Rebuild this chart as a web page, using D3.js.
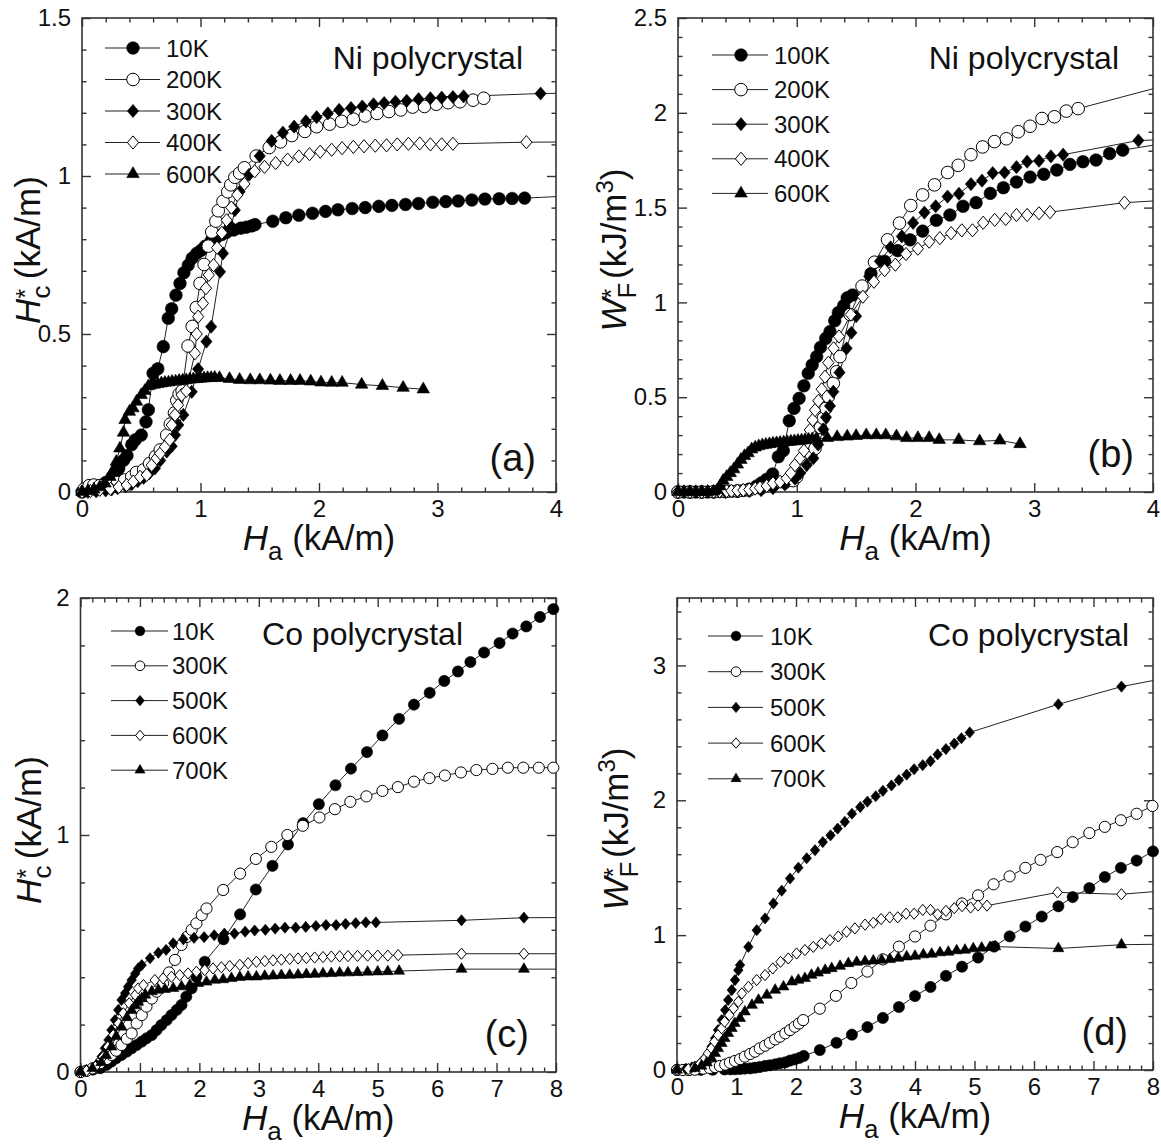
<!DOCTYPE html>
<html><head><meta charset="utf-8">
<script src="https://cdn.jsdelivr.net/npm/d3@7"></script>
<style>
body{margin:0;background:#fff}
svg text{font-family:"Liberation Sans",Arial,Helvetica,sans-serif;fill:#111}
</style></head>
<body><svg id="chart" width="1161" height="1147"></svg>
<script>
// ---------------- DATA ----------------
// Panel (a): Ni polycrystal, Hc* (kA/m) vs Ha (kA/m)
const niHcLabels = ["10K","200K","300K","400K","600K"];
const niHc10K = [[0.0,0.0],[0.05,0.005],[0.1,0.01],[0.15,0.02],[0.2,0.03],[0.25,0.045],[0.29,0.06],[0.31,0.075],[0.35,0.1],[0.38,0.115],[0.42,0.15],[0.45,0.165],[0.5,0.18],[0.54,0.222],[0.56,0.26],[0.6,0.376],[0.64,0.39],[0.686,0.46],[0.728,0.55],[0.757,0.58],[0.793,0.623],[0.827,0.66],[0.86,0.694],[0.897,0.718],[0.93,0.74],[0.968,0.755],[1.005,0.765],[1.04,0.778],[1.09,0.795],[1.135,0.806],[1.18,0.815],[1.22,0.822],[1.28,0.829],[1.34,0.835],[1.385,0.838],[1.43,0.842],[1.46,0.846],[1.61,0.857],[1.72,0.868],[1.83,0.876],[1.945,0.882],[2.055,0.888],[2.16,0.893],[2.28,0.897],[2.39,0.9],[2.505,0.904],[2.615,0.907],[2.73,0.91],[2.84,0.913],[2.96,0.917],[3.07,0.919],[3.175,0.921],[3.29,0.924],[3.40,0.927],[3.52,0.928],[3.63,0.929],[3.735,0.930],[4.3,0.94]];
const niHc200K = [[0.02,0.01],[0.06,0.02],[0.1,0.022],[0.15,0.02],[0.2,0.02],[0.25,0.025],[0.3,0.03],[0.36,0.038],[0.42,0.048],[0.46,0.062],[0.52,0.07],[0.57,0.09],[0.62,0.112],[0.66,0.133],[0.715,0.18],[0.745,0.215],[0.78,0.25],[0.80,0.29],[0.82,0.31],[0.845,0.32],[0.895,0.462],[0.93,0.524],[0.965,0.584],[0.996,0.66],[1.03,0.72],[1.065,0.778],[1.095,0.823],[1.13,0.857],[1.15,0.89],[1.19,0.92],[1.23,0.95],[1.255,0.972],[1.29,0.996],[1.33,1.009],[1.37,1.026],[1.47,1.063],[1.58,1.09],[1.675,1.108],[1.77,1.128],[1.88,1.141],[1.98,1.156],[2.09,1.164],[2.19,1.173],[2.29,1.18],[2.39,1.19],[2.49,1.198],[2.59,1.204],[2.69,1.209],[2.79,1.218],[2.89,1.22],[2.99,1.227],[3.09,1.232],[3.19,1.235],[3.30,1.24],[3.39,1.246]];
const niHc300K = [[0.05,0.0],[0.12,0.002],[0.2,0.005],[0.25,0.008],[0.3,0.012],[0.37,0.018],[0.42,0.025],[0.47,0.034],[0.52,0.045],[0.57,0.06],[0.616,0.075],[0.66,0.1],[0.715,0.128],[0.757,0.145],[0.785,0.18],[0.813,0.212],[0.855,0.244],[0.926,0.317],[0.98,0.389],[1.05,0.476],[1.09,0.523],[1.165,0.697],[1.19,0.755],[1.26,0.84],[1.29,0.892],[1.33,0.95],[1.41,1.004],[1.50,1.063],[1.60,1.111],[1.695,1.137],[1.79,1.156],[1.89,1.173],[1.98,1.186],[2.075,1.198],[2.17,1.209],[2.27,1.215],[2.365,1.22],[2.46,1.227],[2.55,1.231],[2.645,1.235],[2.74,1.238],[2.84,1.243],[2.94,1.246],[3.035,1.248],[3.13,1.25],[3.22,1.252],[3.87,1.261],[4.3,1.263]];
const niHc400K = [[0.0,0.0],[0.07,0.003],[0.15,0.007],[0.24,0.01],[0.31,0.016],[0.377,0.022],[0.433,0.033],[0.49,0.048],[0.546,0.054],[0.588,0.085],[0.63,0.107],[0.66,0.122],[0.70,0.143],[0.74,0.165],[0.757,0.212],[0.785,0.244],[0.81,0.275],[0.84,0.307],[0.88,0.32],[0.953,0.439],[0.968,0.50],[0.98,0.555],[1.02,0.597],[1.046,0.645],[1.07,0.687],[1.11,0.718],[1.14,0.773],[1.18,0.82],[1.22,0.86],[1.26,0.90],[1.31,0.94],[1.37,0.975],[1.457,1.015],[1.54,1.029],[1.634,1.041],[1.735,1.052],[1.83,1.062],[1.92,1.069],[2.01,1.077],[2.107,1.083],[2.195,1.088],[2.29,1.092],[2.38,1.094],[2.475,1.096],[2.57,1.097],[2.66,1.10],[2.755,1.102],[2.85,1.103],[2.94,1.10],[3.035,1.10],[3.13,1.102],[3.75,1.107],[4.3,1.108]];
const niHc600K = [[0.0,0.0],[0.05,0.003],[0.1,0.008],[0.15,0.015],[0.194,0.027],[0.236,0.048],[0.265,0.07],[0.29,0.096],[0.32,0.138],[0.35,0.188],[0.363,0.228],[0.40,0.254],[0.43,0.265],[0.46,0.286],[0.50,0.307],[0.53,0.32],[0.56,0.335],[0.58,0.338],[0.61,0.34],[0.64,0.342],[0.67,0.344],[0.70,0.346],[0.73,0.347],[0.76,0.349],[0.79,0.35],[0.82,0.352],[0.85,0.353],[0.88,0.354],[0.91,0.356],[0.94,0.357],[0.97,0.358],[1.0,0.359],[1.03,0.36],[1.06,0.361],[1.09,0.361],[1.12,0.362],[1.16,0.361],[1.245,0.358],[1.33,0.355],[1.42,0.354],[1.50,0.354],[1.59,0.353],[1.67,0.352],[1.76,0.352],[1.84,0.352],[1.93,0.35],[2.017,0.347],[2.107,0.346],[2.195,0.346],[2.36,0.34],[2.535,0.336],[2.71,0.33],[2.88,0.325]];

// Panel (b): Ni polycrystal, WF* (kJ/m^3)
const niWfLabels = ["100K","200K","300K","400K","600K"];
const niWf100K = [[0.0,0.0],[0.05,0.0],[0.1,0.0],[0.15,0.0],[0.2,0.0],[0.25,0.0],[0.3,0.001],[0.35,0.002],[0.4,0.003],[0.45,0.004],[0.5,0.005],[0.55,0.008],[0.6,0.015],[0.663,0.032],[0.705,0.049],[0.747,0.067],[0.797,0.095],[0.845,0.186],[0.887,0.218],[0.937,0.376],[0.977,0.441],[1.02,0.494],[1.06,0.56],[1.097,0.626],[1.13,0.67],[1.168,0.714],[1.20,0.763],[1.244,0.81],[1.28,0.846],[1.32,0.903],[1.35,0.946],[1.395,0.983],[1.425,1.024],[1.47,1.039],[1.625,1.152],[1.74,1.217],[1.85,1.273],[1.955,1.33],[2.06,1.376],[2.175,1.433],[2.29,1.461],[2.40,1.507],[2.51,1.526],[2.63,1.575],[2.74,1.605],[2.85,1.635],[2.965,1.661],[3.08,1.676],[3.19,1.698],[3.30,1.728],[3.41,1.742],[3.52,1.751],[3.635,1.785],[3.745,1.803],[4.3,1.86]];
const niWf200K = [[0.0,0.0],[0.1,0.0],[0.2,0.0],[0.3,0.001],[0.4,0.002],[0.5,0.005],[0.6,0.01],[0.7,0.02],[0.8,0.035],[0.9,0.05],[0.97,0.06],[1.0,0.08],[1.03,0.12],[1.08,0.17],[1.12,0.2],[1.154,0.23],[1.2,0.34],[1.224,0.389],[1.246,0.441],[1.266,0.503],[1.308,0.573],[1.336,0.634],[1.364,0.714],[1.45,0.936],[1.55,1.086],[1.655,1.212],[1.765,1.33],[1.865,1.418],[1.96,1.511],[2.06,1.567],[2.16,1.62],[2.27,1.685],[2.36,1.723],[2.467,1.779],[2.565,1.82],[2.665,1.848],[2.765,1.863],[2.865,1.90],[2.965,1.929],[3.065,1.97],[3.17,1.979],[3.27,2.009],[3.37,2.022],[4.5,2.21]];
const niWf300K = [[0.0,0.0],[0.1,0.0],[0.2,0.0],[0.3,0.0],[0.4,0.001],[0.5,0.003],[0.6,0.005],[0.7,0.01],[0.8,0.02],[0.9,0.04],[0.985,0.07],[1.03,0.1],[1.084,0.142],[1.14,0.178],[1.18,0.25],[1.224,0.33],[1.246,0.394],[1.28,0.454],[1.308,0.529],[1.36,0.63],[1.42,0.758],[1.46,0.84],[1.50,0.927],[1.61,1.137],[1.70,1.217],[1.79,1.29],[1.885,1.348],[1.98,1.419],[2.075,1.474],[2.17,1.507],[2.27,1.558],[2.366,1.573],[2.467,1.624],[2.56,1.642],[2.65,1.682],[2.75,1.685],[2.85,1.713],[2.94,1.742],[3.04,1.747],[3.14,1.77],[3.243,1.779],[3.877,1.854],[4.3,1.862]];
const niWf400K = [[0.0,0.0],[0.1,0.0],[0.2,0.0],[0.3,0.002],[0.35,0.003],[0.41,0.005],[0.45,0.006],[0.5,0.008],[0.55,0.01],[0.6,0.013],[0.65,0.018],[0.69,0.023],[0.747,0.032],[0.80,0.046],[0.86,0.054],[0.915,0.072],[0.95,0.1],[0.985,0.142],[1.027,0.178],[1.06,0.218],[1.11,0.327],[1.134,0.38],[1.154,0.432],[1.182,0.481],[1.21,0.542],[1.238,0.608],[1.266,0.682],[1.31,0.758],[1.356,0.82],[1.455,0.936],[1.557,1.03],[1.65,1.109],[1.74,1.17],[1.83,1.199],[1.92,1.255],[2.02,1.283],[2.115,1.32],[2.205,1.339],[2.30,1.365],[2.39,1.38],[2.48,1.38],[2.57,1.42],[2.667,1.435],[2.76,1.44],[2.85,1.461],[2.94,1.461],[3.04,1.47],[3.133,1.476],[3.76,1.526],[4.3,1.546]];
const niWf600K = [[0.0,0.0],[0.05,0.0],[0.1,0.0],[0.15,0.0],[0.2,0.0],[0.25,0.001],[0.3,0.003],[0.33,0.01],[0.354,0.03],[0.38,0.06],[0.41,0.08],[0.44,0.1],[0.47,0.12],[0.5,0.145],[0.53,0.17],[0.56,0.19],[0.59,0.205],[0.62,0.225],[0.65,0.235],[0.68,0.242],[0.71,0.247],[0.74,0.25],[0.77,0.253],[0.80,0.256],[0.83,0.258],[0.86,0.26],[0.89,0.262],[0.92,0.264],[0.95,0.266],[0.98,0.268],[1.01,0.27],[1.04,0.272],[1.07,0.274],[1.10,0.276],[1.13,0.278],[1.165,0.281],[1.257,0.285],[1.34,0.29],[1.425,0.293],[1.50,0.296],[1.585,0.30],[1.67,0.30],[1.75,0.30],[1.84,0.294],[1.925,0.285],[2.02,0.285],[2.115,0.285],[2.20,0.275],[2.365,0.275],[2.54,0.268],[2.71,0.272],[2.88,0.253]];

// Panel (c): Co polycrystal, Hc* (kA/m)
const coHcLabels = ["10K","300K","500K","600K","700K"];
const coHc10K = [[0.0,0.0],[0.1,0.005],[0.21,0.01],[0.33,0.016],[0.44,0.03],[0.52,0.044],[0.6,0.058],[0.69,0.072],[0.78,0.086],[0.86,0.10],[0.945,0.114],[1.03,0.128],[1.11,0.142],[1.20,0.156],[1.28,0.177],[1.36,0.198],[1.45,0.219],[1.53,0.24],[1.62,0.262],[1.70,0.283],[1.78,0.318],[1.87,0.353],[1.95,0.402],[2.09,0.465],[2.405,0.56],[2.685,0.665],[2.95,0.77],[3.23,0.87],[3.49,0.96],[3.745,1.05],[4.01,1.13],[4.29,1.21],[4.55,1.28],[4.82,1.35],[5.08,1.42],[5.36,1.49],[5.61,1.55],[5.875,1.60],[6.12,1.65],[6.35,1.69],[6.56,1.73],[6.79,1.77],[7.05,1.81],[7.27,1.85],[7.50,1.88],[7.73,1.92],[7.955,1.953]];
const coHc300K = [[0.0,0.0],[0.1,0.005],[0.2,0.015],[0.33,0.037],[0.44,0.055],[0.52,0.072],[0.6,0.09],[0.69,0.114],[0.78,0.14],[0.86,0.163],[0.945,0.205],[1.03,0.24],[1.11,0.276],[1.2,0.31],[1.28,0.339],[1.39,0.374],[1.49,0.42],[1.59,0.473],[1.70,0.536],[1.79,0.57],[1.87,0.60],[1.95,0.627],[2.04,0.662],[2.12,0.69],[2.40,0.768],[2.685,0.837],[2.95,0.899],[3.21,0.95],[3.48,1.0],[3.74,1.039],[4.02,1.074],[4.28,1.109],[4.54,1.14],[4.81,1.163],[5.08,1.186],[5.34,1.202],[5.61,1.225],[5.87,1.24],[6.13,1.251],[6.40,1.264],[6.66,1.274],[6.93,1.279],[7.19,1.284],[7.45,1.284],[7.71,1.284],[7.955,1.284]];
const coHc500K = [[0.0,0.0],[0.1,0.008],[0.27,0.03],[0.356,0.065],[0.41,0.10],[0.47,0.135],[0.52,0.177],[0.58,0.219],[0.635,0.262],[0.69,0.304],[0.75,0.332],[0.80,0.36],[0.86,0.388],[0.92,0.415],[0.97,0.437],[1.03,0.451],[1.17,0.48],[1.31,0.503],[1.44,0.515],[1.56,0.543],[1.73,0.56],[1.91,0.566],[2.08,0.569],[2.25,0.577],[2.42,0.584],[2.59,0.584],[2.77,0.592],[2.93,0.597],[3.11,0.60],[3.275,0.605],[3.44,0.609],[3.62,0.609],[3.79,0.612],[3.96,0.616],[4.13,0.62],[4.30,0.62],[4.46,0.625],[4.63,0.628],[4.80,0.631],[4.97,0.631],[6.41,0.64],[7.46,0.651],[8.5,0.652]];
const coHc600K = [[0.0,0.0],[0.1,0.005],[0.25,0.022],[0.38,0.064],[0.46,0.106],[0.55,0.156],[0.64,0.205],[0.72,0.248],[0.82,0.29],[0.92,0.325],[0.97,0.353],[1.06,0.367],[1.25,0.388],[1.39,0.395],[1.53,0.402],[1.67,0.409],[1.81,0.416],[1.95,0.423],[2.09,0.43],[2.23,0.437],[2.37,0.442],[2.51,0.447],[2.68,0.452],[2.82,0.459],[2.96,0.465],[3.1,0.468],[3.24,0.471],[3.38,0.474],[3.52,0.477],[3.66,0.479],[3.8,0.481],[3.94,0.483],[4.08,0.485],[4.22,0.487],[4.36,0.488],[4.5,0.489],[4.66,0.49],[4.83,0.491],[5.0,0.491],[5.17,0.491],[5.345,0.493],[6.41,0.499],[7.46,0.499],[8.5,0.499]];
const coHc700K = [[0.0,0.0],[0.2,0.015],[0.35,0.04],[0.43,0.07],[0.52,0.106],[0.6,0.15],[0.69,0.19],[0.78,0.23],[0.86,0.26],[0.92,0.28],[0.97,0.295],[1.03,0.31],[1.09,0.325],[1.20,0.339],[1.31,0.346],[1.42,0.349],[1.56,0.353],[1.70,0.36],[1.84,0.367],[1.98,0.374],[2.12,0.38],[2.26,0.388],[2.40,0.39],[2.54,0.395],[2.68,0.40],[2.82,0.402],[2.96,0.402],[3.1,0.405],[3.24,0.406],[3.38,0.408],[3.52,0.409],[3.66,0.41],[3.8,0.412],[3.94,0.413],[4.08,0.415],[4.22,0.416],[4.36,0.418],[4.5,0.419],[4.66,0.42],[4.83,0.422],[5.0,0.423],[5.17,0.424],[5.36,0.426],[6.41,0.434],[7.46,0.434],[8.5,0.434]];

// Panel (d): Co polycrystal, WF* (kJ/m^3)
const coWfLabels = ["10K","300K","500K","600K","700K"];
const coWf10K = [[0.0,0.0],[0.2,0.0],[0.4,0.001],[0.6,0.002],[0.8,0.004],[0.9,0.005],[0.98,0.006],[1.06,0.008],[1.14,0.01],[1.23,0.012],[1.31,0.017],[1.39,0.022],[1.48,0.03],[1.56,0.035],[1.65,0.042],[1.73,0.05],[1.82,0.057],[1.90,0.07],[1.98,0.079],[2.06,0.09],[2.13,0.104],[2.40,0.148],[2.68,0.202],[2.94,0.262],[3.2,0.318],[3.46,0.386],[3.73,0.467],[4.0,0.548],[4.26,0.616],[4.52,0.698],[4.79,0.766],[5.06,0.834],[5.33,0.915],[5.59,0.991],[5.855,1.064],[6.13,1.138],[6.41,1.214],[6.65,1.282],[6.93,1.349],[7.19,1.431],[7.46,1.499],[7.725,1.553],[8.0,1.621]];
const coWf300K = [[0.0,0.0],[0.1,0.0],[0.2,0.001],[0.3,0.002],[0.44,0.01],[0.55,0.015],[0.64,0.022],[0.72,0.03],[0.81,0.04],[0.89,0.054],[0.975,0.067],[1.06,0.081],[1.14,0.099],[1.23,0.119],[1.31,0.136],[1.39,0.16],[1.48,0.18],[1.56,0.202],[1.65,0.227],[1.73,0.247],[1.82,0.272],[1.90,0.296],[1.98,0.321],[2.05,0.345],[2.12,0.37],[2.40,0.455],[2.67,0.55],[2.93,0.645],[3.2,0.73],[3.46,0.82],[3.73,0.915],[4.0,0.99],[4.26,1.07],[4.52,1.154],[4.79,1.235],[5.06,1.295],[5.32,1.377],[5.59,1.436],[5.855,1.499],[6.11,1.558],[6.39,1.616],[6.65,1.689],[6.93,1.757],[7.19,1.803],[7.46,1.852],[7.725,1.90],[7.99,1.958]];
const coWf500K = [[0.0,0.0],[0.15,0.01],[0.25,0.02],[0.36,0.037],[0.44,0.074],[0.53,0.124],[0.58,0.173],[0.64,0.235],[0.69,0.296],[0.75,0.37],[0.81,0.444],[0.86,0.519],[0.92,0.593],[0.975,0.667],[1.03,0.74],[1.06,0.778],[1.20,0.913],[1.34,1.037],[1.48,1.124],[1.62,1.235],[1.76,1.33],[1.90,1.42],[2.04,1.50],[2.18,1.57],[2.32,1.63],[2.45,1.69],[2.58,1.74],[2.70,1.79],[2.82,1.84],[2.94,1.90],[3.08,1.95],[3.20,1.99],[3.34,2.03],[3.46,2.07],[3.605,2.11],[3.73,2.15],[3.86,2.19],[3.985,2.23],[4.13,2.26],[4.26,2.29],[4.38,2.34],[4.52,2.38],[4.66,2.42],[4.78,2.46],[4.92,2.503],[6.41,2.712],[7.47,2.843],[8.5,2.93]];
const coWf600K = [[0.0,0.0],[0.19,0.007],[0.30,0.025],[0.39,0.049],[0.47,0.086],[0.52,0.123],[0.58,0.16],[0.63,0.21],[0.69,0.259],[0.75,0.309],[0.80,0.358],[0.88,0.407],[0.95,0.457],[1.03,0.506],[1.09,0.568],[1.20,0.617],[1.34,0.667],[1.48,0.704],[1.61,0.753],[1.74,0.802],[1.87,0.827],[2.01,0.864],[2.15,0.889],[2.29,0.913],[2.43,0.938],[2.57,0.963],[2.71,0.99],[2.85,1.025],[2.99,1.05],[3.16,1.078],[3.30,1.092],[3.43,1.119],[3.575,1.132],[3.71,1.132],[3.85,1.159],[3.985,1.159],[4.13,1.187],[4.26,1.187],[4.38,1.154],[4.52,1.18],[4.66,1.20],[4.79,1.215],[4.935,1.205],[5.06,1.22],[5.21,1.219],[6.395,1.317],[7.47,1.303],[8.5,1.34]];
const coWf700K = [[0.0,0.0],[0.3,0.012],[0.41,0.03],[0.5,0.054],[0.58,0.086],[0.64,0.123],[0.69,0.16],[0.75,0.198],[0.80,0.235],[0.86,0.272],[0.92,0.309],[0.97,0.346],[1.06,0.383],[1.14,0.432],[1.26,0.481],[1.37,0.519],[1.51,0.556],[1.65,0.593],[1.79,0.617],[1.93,0.654],[2.04,0.667],[2.15,0.679],[2.26,0.704],[2.37,0.72],[2.49,0.74],[2.60,0.753],[2.74,0.77],[2.88,0.79],[3.02,0.80],[3.16,0.805],[3.30,0.81],[3.44,0.815],[3.58,0.82],[3.72,0.83],[3.86,0.84],[4.0,0.845],[4.14,0.855],[4.28,0.86],[4.42,0.87],[4.56,0.875],[4.70,0.885],[4.84,0.89],[4.98,0.90],[5.12,0.905],[5.26,0.91],[5.35,0.915],[6.41,0.901],[7.47,0.929],[8.5,0.935]];

// Tick values
const niXTicks = [0,1,2,3,4];
const coXTicks = [0,1,2,3,4,5,6,7,8];
const niHcYTicks = [0,0.5,1,1.5];
const niWfYTicks = [0,0.5,1,1.5,2,2.5];
const coHcYTicks = [0,1,2];
const coWfYTicks = [0,1,2,3];

// marker style per series position
const markerStyles = [
  {shape:"circle", filled:true},
  {shape:"circle", filled:false},
  {shape:"diamond", filled:true},
  {shape:"diamond", filled:false},
  {shape:"triangle", filled:true}
];

// ---------------- DRAWING ----------------
const svg = d3.select("#chart");
svg.append("rect").attr("width",1161).attr("height",1147).attr("fill","#fff");

const diamondType = {
  draw(ctx, size){
    const ratio = 0.85;
    const h = Math.sqrt(size/(2*ratio)), w = h*ratio;
    ctx.moveTo(0,-h); ctx.lineTo(w,0); ctx.lineTo(0,h); ctx.lineTo(-w,0); ctx.closePath();
  }
};
function symbolPath(shape, sz){
  if(shape==="circle") return d3.symbol().type(d3.symbolCircle).size(Math.PI*sz.c*sz.c)();
  if(shape==="diamond") return d3.symbol().type(diamondType).size(2*0.85*sz.d*sz.d)();
  return d3.symbol().type(d3.symbolTriangle).size(Math.sqrt(3)/4*sz.t*sz.t)();
}

const panels = [
  {id:"a", box:[82,18,556,492], xDom:[0,4], yDom:[0,1.5], xTicks:niXTicks, xMinor:0.2, yTicks:niHcYTicks, yMinor:0.1,
   series:[niHc10K,niHc200K,niHc300K,niHc400K,niHc600K], labels:niHcLabels, yTitle:"Hc",
   legend:{x0:105,x1:160,mx:133,tx:166,y0:48,dy:31.5}, mk:{c:6.3,d:6.6,t:12.5}, lmk:{c:6.3,d:6.6,t:12.5},
   title:"Ni polycrystal", titleX:523, titleY:69, letter:"(a)", letterX:536, letterY:471, yTitleX:40},
  {id:"b", box:[678,18,1153,492], xDom:[0,4], yDom:[0,2.5], xTicks:niXTicks, xMinor:0.2, yTicks:niWfYTicks, yMinor:0.1,
   series:[niWf100K,niWf200K,niWf300K,niWf400K,niWf600K], labels:niWfLabels, yTitle:"WF",
   legend:{x0:712,x1:768,mx:741,tx:774,y0:55,dy:34.6}, mk:{c:6.3,d:6.6,t:12.5}, lmk:{c:6.3,d:6.6,t:12.5},
   title:"Ni polycrystal", titleX:1119, titleY:69, letter:"(b)", letterX:1134, letterY:467, yTitleX:626},
  {id:"c", box:[80.5,598,556,1072], xDom:[0,8], yDom:[0,2], xTicks:coXTicks, xMinor:0.2, yTicks:coHcYTicks, yMinor:0.2,
   series:[coHc10K,coHc300K,coHc500K,coHc600K,coHc700K], labels:coHcLabels, yTitle:"Hc",
   legend:{x0:111,x1:168,mx:140,tx:172,y0:631,dy:34.8}, mk:{c:5.6,d:5.6,t:11}, lmk:{c:4.8,d:5.2,t:10},
   title:"Co polycrystal", titleX:463, titleY:645, letter:"(c)", letterX:529, letterY:1047, yTitleX:41},
  {id:"d", box:[677,598,1153,1070], xDom:[0,8], yDom:[0,3.5], xTicks:coXTicks, xMinor:0.2, yTicks:coWfYTicks, yMinor:0.2,
   series:[coWf10K,coWf300K,coWf500K,coWf600K,coWf700K], labels:coWfLabels, yTitle:"WF",
   legend:{x0:708,x1:763,mx:736,tx:770,y0:636,dy:35.7}, mk:{c:5.6,d:5.6,t:11}, lmk:{c:4.8,d:5.2,t:10},
   title:"Co polycrystal", titleX:1129, titleY:646, letter:"(d)", letterX:1128, letterY:1045, yTitleX:628}
];

const fmt = d => String(d);
const AX = "#333";

panels.forEach(p => {
  const [L,T,R,B] = p.box;
  const x = d3.scaleLinear().domain(p.xDom).range([L,R]);
  const y = d3.scaleLinear().domain(p.yDom).range([B,T]);
  const g = svg.append("g").attr("id","panel-"+p.id);

  const isMajor = (v,ticks) => ticks.some(t => Math.abs(t-v) < 1e-6);
  const xMin = d3.range(p.xDom[0], p.xDom[1]+1e-9, p.xMinor).filter(v => !isMajor(v,p.xTicks));
  const yMin = d3.range(p.yDom[0], p.yDom[1]+1e-9, p.yMinor).filter(v => !isMajor(v,p.yTicks));

  const axG = g.append("g").attr("class","axes");
  const styleAxis = sel => { sel.selectAll(".domain").remove(); sel.selectAll("line").attr("stroke",AX).attr("stroke-width",1.4); sel.selectAll("text").style("font-size","24px").attr("fill","#111"); };

  axG.append("g").attr("transform",`translate(0,${B})`).call(d3.axisBottom(x).tickValues(xMin).tickSize(-4.5).tickSizeOuter(0).tickFormat("")).call(styleAxis);
  axG.append("g").attr("transform",`translate(0,${B})`).call(d3.axisBottom(x).tickValues(p.xTicks).tickSize(-9).tickSizeOuter(0).tickPadding(8).tickFormat(fmt)).call(styleAxis);
  axG.append("g").attr("transform",`translate(0,${T})`).call(d3.axisTop(x).tickValues(xMin).tickSize(-4.5).tickSizeOuter(0).tickFormat("")).call(styleAxis);
  axG.append("g").attr("transform",`translate(0,${T})`).call(d3.axisTop(x).tickValues(p.xTicks).tickSize(-9).tickSizeOuter(0).tickFormat("")).call(styleAxis);
  axG.append("g").attr("transform",`translate(${L},0)`).call(d3.axisLeft(y).tickValues(yMin).tickSize(-4.5).tickSizeOuter(0).tickFormat("")).call(styleAxis);
  axG.append("g").attr("transform",`translate(${L},0)`).call(d3.axisLeft(y).tickValues(p.yTicks).tickSize(-9).tickSizeOuter(0).tickPadding(11).tickFormat(fmt)).call(styleAxis);
  axG.append("g").attr("transform",`translate(${R},0)`).call(d3.axisRight(y).tickValues(yMin).tickSize(-4.5).tickSizeOuter(0).tickFormat("")).call(styleAxis);
  axG.append("g").attr("transform",`translate(${R},0)`).call(d3.axisRight(y).tickValues(p.yTicks).tickSize(-9).tickSizeOuter(0).tickFormat("")).call(styleAxis);

  g.append("rect").attr("x",L).attr("y",T).attr("width",R-L).attr("height",B-T)
    .attr("fill","none").attr("stroke",AX).attr("stroke-width",1.6);

  // clip
  const clipId = "clip-"+p.id;
  svg.append("clipPath").attr("id",clipId).append("rect").attr("x",L).attr("y",T).attr("width",R-L).attr("height",B-T);

  const line = d3.line().x(d=>x(d[0])).y(d=>y(d[1]));
  const dataG = g.append("g").attr("clip-path",`url(#${clipId})`);
  p.series.forEach(s => {
    dataG.append("path").datum(s).attr("d",line).attr("fill","none").attr("stroke","#222").attr("stroke-width",1);
  });
  const mkG = g.append("g");
  p.series.forEach((s,i) => {
    const st = markerStyles[i];
    const path = symbolPath(st.shape, p.mk);
    mkG.append("g").selectAll("path").data(s.filter(d => d[0] <= p.xDom[1]+1e-9 && d[0] >= p.xDom[0]))
      .join("path")
      .attr("transform", d => `translate(${x(d[0])},${y(d[1])})`)
      .attr("d", path)
      .attr("fill", st.filled ? "#000" : "#fff")
      .attr("stroke", "#000").attr("stroke-width", st.filled ? 0.6 : 1);
  });

  // legend
  const lg = g.append("g");
  p.labels.forEach((lab,i) => {
    const st = markerStyles[i];
    const yy = p.legend.y0 + i*p.legend.dy;
    lg.append("line").attr("x1",p.legend.x0).attr("x2",p.legend.x1).attr("y1",yy).attr("y2",yy).attr("stroke","#222").attr("stroke-width",1);
    lg.append("path").attr("transform",`translate(${p.legend.mx},${yy})`).attr("d",symbolPath(st.shape,p.lmk))
      .attr("fill", st.filled ? "#000" : "#fff").attr("stroke","#000").attr("stroke-width", st.filled?0.6:1);
    lg.append("text").attr("x",p.legend.tx).attr("y",yy).attr("dy","0.36em").style("font-size","24px").text(lab);
  });

  // panel title and letter
  g.append("text").attr("x",p.titleX).attr("y",p.titleY).attr("text-anchor","end").style("font-size","32px").text(p.title);
  g.append("text").attr("x",p.letterX).attr("y",p.letterY).attr("text-anchor","end").style("font-size","38px").text(p.letter);

  // x title: H_a (kA/m)
  const xt = g.append("text").attr("x",(L+R)/2).attr("y",B+58).attr("text-anchor","middle").style("font-size","35px");
  xt.append("tspan").style("font-style","italic").text("H");
  xt.append("tspan").attr("dy",10).style("font-size","26px").text("a");
  xt.append("tspan").attr("dy",-10).text(" (kA/m)");

  // y title
  const yt = g.append("text").attr("transform",`translate(${p.yTitleX},${(T+B)/2-5}) rotate(-90)`).attr("text-anchor","middle").style("font-size","35px");
  if (p.yTitle === "Hc") {
    yt.append("tspan").style("font-style","italic").text("H");
    yt.append("tspan").attr("dy",10).style("font-size","26px").text("c");
    yt.append("tspan").attr("dx",-13).attr("dy",-16).style("font-size","25px").text("*");
    yt.append("tspan").attr("dy",6).text(" (kA/m)");
  } else {
    yt.append("tspan").style("font-style","italic").text("W");
    yt.append("tspan").attr("dy",10).style("font-size","26px").text("F");
    yt.append("tspan").attr("dx",-15.9).attr("dy",-16).style("font-size","25px").text("*");
    yt.append("tspan").attr("dy",6).text(" (kJ/m");
    yt.append("tspan").attr("dy",-13).style("font-size","24px").text("3");
    yt.append("tspan").attr("dy",13).text(")");
  }
});
</script>
</body></html>
